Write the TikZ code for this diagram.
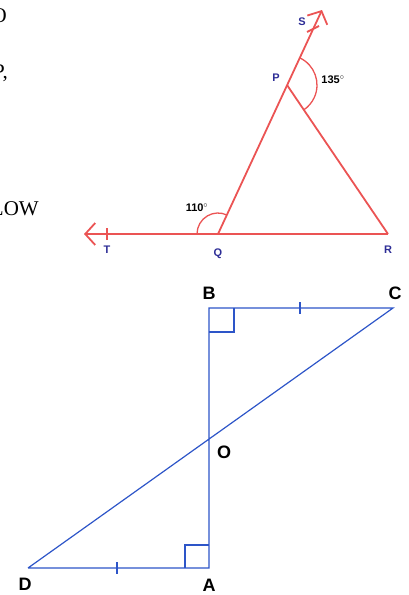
\documentclass[tikz,border=0pt]{standalone}
\usepackage{fontspec}
\setmainfont{Liberation Serif}
\setsansfont{Liberation Sans}
\usetikzlibrary{arrows.meta}
\definecolor{figred}{RGB}{235,84,84}
\definecolor{figblue}{RGB}{45,85,200}
\definecolor{labnavy}{RGB}{45,45,150}
\tikzset{
  redline/.style={draw=figred, line width=1.8},
  blueline/.style={draw=figblue, line width=1.2},
  openarrow/.style={-{Straight Barb[length=10pt,width=22pt,line width=1.8pt]}},
  toplab/.style={font=\sffamily\bfseries\fontsize{11}{12}\selectfont, text=labnavy},
  anglab/.style={font=\sffamily\bfseries\fontsize{11}{12}\selectfont},
  botlab/.style={font=\sffamily\bfseries\fontsize{18}{20}\selectfont},
  pagetext/.style={font=\fontsize{21}{24}\selectfont, anchor=base east, inner sep=0pt}
}
\begin{document}
\begin{tikzpicture}[x=1pt,y=-1pt]
    \useasboundingbox (0,0) rectangle (409,595);
    % bits of the page text, cut at the left edge
    \node[pagetext] (txtone) at (7,22) {O};
    \node[pagetext] (txttwo) at (8,78) {P,};
    \node[pagetext] (txtthree) at (39,215) {LOW};
    % points of the triangle
    \coordinate (Q) at (218,234);
    \coordinate (R) at (388,234);
    \coordinate (P) at (287,85);
    \coordinate (Send) at (322,10);
    \coordinate (Tend) at (84,234);
    \coordinate (T) at (107,234);
    \coordinate (S) at (313,29);
    % rays and sides
    \draw[redline, openarrow] (R) -- (Tend);
    \draw[redline, openarrow] (Q) -- (Send);
    \draw[redline] (P) -- (R);
    % small marks on the rays
    \draw[redline] ([yshift=-6]T) -- ([yshift=6]T);
    \draw[redline] ([shift={(-6,3)}]S) -- ([shift={(6,-3)}]S);
    % exterior angles
    \draw[redline, line width=1.3] ([shift={(-65:30)}]P) arc[start angle=-65, end angle=56, radius=30];
    \draw[redline, line width=1.3] ([shift={(180:21)}]Q) arc[start angle=180, end angle=295, radius=21];
    \node[anglab] (angP) at (333,80) {135$^{\circ}$};
    \node[anglab] (angQ) at (197,208) {110$^{\circ}$};
    % letters of the triangle
    \node[toplab] (labT) at (107,250) {T};
    \node[toplab] (labQ) at (218,254) {Q};
    \node[toplab] (labR) at (388,250) {R};
    \node[toplab] (labP) at (276,78) {P};
    \node[toplab] (labS) at (302,22) {S};
    % points of the lower figure
    \coordinate (B) at (209,308);
    \coordinate (C) at (393,308);
    \coordinate (A) at (209,568);
    \coordinate (D) at (28,568);
    \coordinate (O) at (209,438);
    \draw[blueline] (D) -- (A) -- (B) -- (C) -- (D);
    % right angles at B and A
    \draw[blueline] ([yshift=-24]B) -- ++(25,0) -- ++(0,-24);
    \draw[blueline] ([yshift=23]A) -- ++(-24,0) -- ++(0,23);
    % equal sides
    \draw[blueline] (300,302) -- (300,314);
    \draw[blueline] (117,562) -- (117,574);
    \node[botlab] (labB) at (209,293) {B};
    \node[botlab] (labC) at (395,293) {C};
    \node[botlab] (labO) at (224,452) {O};
    \node[botlab] (labD) at (25,584) {D};
    \node[botlab] (labA) at (209,585) {A};
\end{tikzpicture}
\end{document}
